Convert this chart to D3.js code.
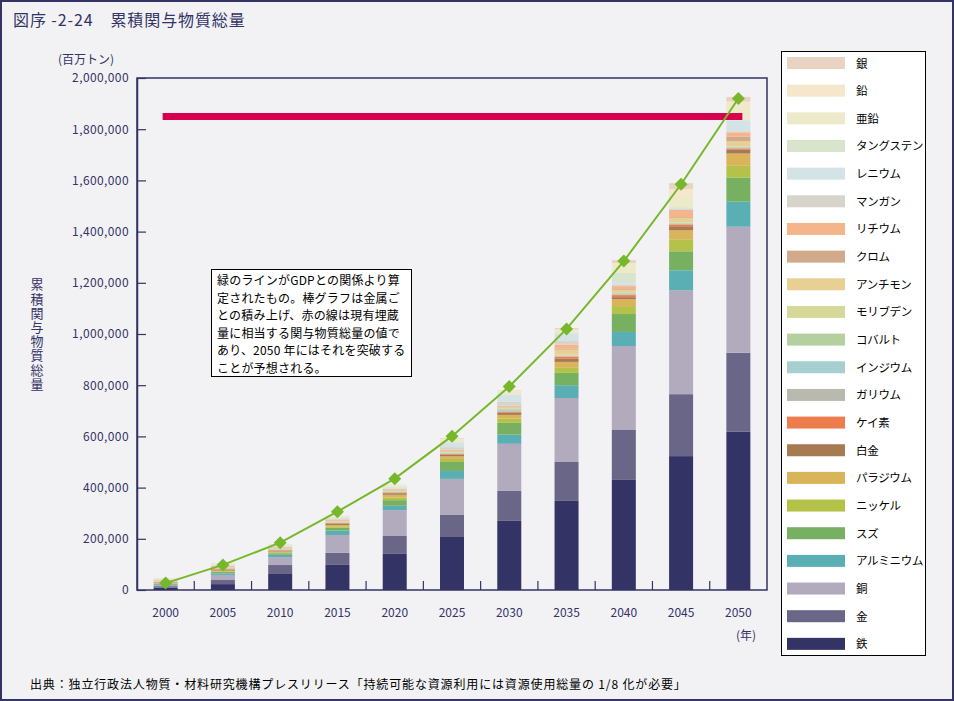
<!DOCTYPE html>
<html><head><meta charset="utf-8">
<script src="https://cdn.jsdelivr.net/npm/d3@7"></script>
<style>
html,body{margin:0;padding:0;background:#f2f2f5;}
svg{display:block;font-family:"Noto Sans CJK JP","Noto Sans",sans-serif;}
</style></head><body>
<svg id="chart" width="954" height="701"></svg>
<script>
// ---- data (百万トン) ----
const years = ["2000","2005","2010","2015","2020","2025","2030","2035","2040","2045","2050"];
const iron       = [9000, 23000, 62500, 98000, 141000, 207000, 270000, 348000, 430000, 523000, 618000];
const gold       = [6000, 16000, 35000, 47000, 70000, 86000, 117000, 152000, 195000, 242000, 309000];
const copper     = [5000, 20000, 31000, 70000, 101000, 141000, 184000, 250000, 328000, 406000, 492000];
const aluminium  = [3000, 6000, 9000, 17000, 17000, 31000, 36000, 50000, 55000, 78000, 98000];
const tin        = [2000, 5000, 6000, 11000, 22000, 35000, 46000, 48000, 70000, 74000, 94000];
const nickel     = [1500, 3000, 4000, 6000, 10000, 12000, 17000, 20000, 31000, 47000, 46000];
const palladium  = [1000, 3000, 3000, 5000, 11000, 10000, 14000, 23000, 27000, 35000, 48000];
const platinum   = [1000, 2500, 3000, 4000, 6000, 6000, 9000, 12000, 8000, 16000, 16000];
const silicon    = [2000, 3000, 2000, 3000, 3000, 3000, 4000, 8000, 8000, 7000, 4000];
const gallium    = [1000, 1500, 1500, 1500, 1500, 2000, 3000, 2000, 3000, 2000, 2000];
const indium     = [1000, 1500, 1500, 1500, 1500, 2000, 4000, 2000, 3000, 2000, 2000];
const cobalt     = [1000, 1500, 1500, 1500, 1500, 2000, 4000, 2000, 3000, 2000, 2000];
const molybdenum = [1000, 1500, 1500, 1500, 1500, 2000, 3000, 2000, 3000, 2000, 2000];
const antimony   = [1500, 2000, 2000, 3000, 3000, 4000, 3000, 20000, 8000, 18000, 20000];
const chromium   = [1000, 1500, 1500, 2000, 1000, 2000, 3000, 3000, 3000, 3000, 18000];
const lithium    = [1500, 2500, 2500, 3000, 3000, 3000, 3000, 17000, 12000, 28000, 17000];
const manganese  = [1000, 2000, 2000, 2000, 2000, 10000, 15000, 16000, 6000, 3000, 4000];
const rhenium    = [2000, 2500, 2500, 4000, 5000, 18000, 27000, 27000, 10000, 4000, 42000];
const tungsten   = [1500, 2000, 2000, 3000, 2000, 2000, 2000, 3000, 36000, 3000, 4000];
const zinc       = [2000, 2500, 3000, 4000, 6000, 10000, 12000, 10000, 34000, 45000, 52000];
const lead       = [1000, 1000, 1000, 1000, 1000, 2000, 2000, 3000, 4000, 26000, 18000];
const silver     = [1000, 1000, 1000, 1000, 1000, 3000, 2000, 5000, 12000, 23000, 18000];
const gdpLine    = [27000, 98000, 185000, 306000, 435000, 601000, 795000, 1020000, 1285000, 1585000, 1920000];
const reserveLine = [1850000, 1850000];
const yTicks = [0, 200000, 400000, 600000, 800000, 1000000, 1200000, 1400000, 1600000, 1800000, 2000000];

// bottom -> top stacking order
const seriesNames = ["鉄","金","銅","アルミニウム","スズ","ニッケル","パラジウム","白金","ケイ素","ガリウム","インジウム","コバルト","モリブデン","アンチモン","クロム","リチウム","マンガン","レニウム","タングステン","亜鉛","鉛","銀"];
const seriesValues = [iron,gold,copper,aluminium,tin,nickel,palladium,platinum,silicon,gallium,indium,cobalt,molybdenum,antimony,chromium,lithium,manganese,rhenium,tungsten,zinc,lead,silver];
const seriesColors = ["#343366","#6a6688","#b2abbe","#5aafb4","#78b062","#b4c24a","#dab45a","#a87a52","#ee7d4e","#bab9b0","#a6d0d0","#b4cfa0","#d6d89a","#e8d094","#d0aa8a","#f5b58a","#d8d4cc","#d4e4e6","#d8e4cc","#eceac8","#f5e6cc","#e8d4c0"];

const navy = "#333366";
const svg = d3.select("#chart");
svg.append("rect").attr("x",1).attr("y",1).attr("width",952).attr("height",699)
   .attr("fill","#f2f2f5").attr("stroke",navy).attr("stroke-width",2);

// title
svg.append("text").attr("x",13).attr("y",26).attr("fill",navy)
   .attr("font-size",16).attr("letter-spacing",0.9).text("図序 -2-24　累積関与物質総量");

const L = 137, R = 767, T = 78, B = 590;
const x = d3.scaleBand().domain(years).range([L,R]).padding(0);
const y = d3.scaleLinear().domain([0,2000000]).range([B,T]);
const barW = 24;
const cx = d => x(d) + x.bandwidth()/2;

// table for stacking
const table = years.map((yr,i)=>{ const o={year:yr}; seriesNames.forEach((n,k)=>o[n]=seriesValues[k][i]); return o; });
const stacked = d3.stack().keys(seriesNames)(table);

const g = svg.append("g");
g.selectAll("g.layer").data(stacked).join("g").attr("class","layer")
  .attr("fill",(d,i)=>seriesColors[i])
  .selectAll("rect").data(d=>d).join("rect")
  .attr("x",d=>cx(d.data.year)-barW/2).attr("width",barW)
  .attr("y",d=>y(d[1])).attr("height",d=>y(d[0])-y(d[1]));

// frame
svg.append("rect").attr("x",L).attr("y",T).attr("width",R-L).attr("height",B-T)
   .attr("fill","none").attr("stroke",navy).attr("stroke-width",1.5);

// y axis
const yAxis = svg.append("g").attr("transform",`translate(${L},0)`)
  .call(d3.axisLeft(y).tickValues(yTicks).tickFormat(d3.format(",")).tickSizeInner(-9).tickSizeOuter(0).tickPadding(8));
yAxis.select(".domain").attr("stroke",navy).attr("stroke-width",1.5);
yAxis.selectAll(".tick line").attr("stroke",navy).attr("stroke-width",1.2);
yAxis.selectAll("text").attr("fill",navy).attr("font-size",12).attr("font-family","'Noto Sans CJK JP'").attr("letter-spacing",0.4);

// x axis: labels at centres, ticks at band boundaries (inward)
const xAxis = svg.append("g").attr("transform",`translate(0,${B})`);
xAxis.selectAll("line").data(years.slice(1)).join("line")
  .attr("x1",d=>x(d)).attr("x2",d=>x(d)).attr("y1",0).attr("y2",-9)
  .attr("stroke",navy).attr("stroke-width",1.2);
xAxis.selectAll("text").data(years).join("text")
  .attr("x",d=>cx(d)).attr("y",27).attr("text-anchor","middle")
  .attr("fill",navy).attr("font-size",12).text(d=>d);

svg.append("text").attr("x",746).attr("y",640).attr("text-anchor","middle")
   .attr("fill",navy).attr("font-size",12).text("(年)");
svg.append("text").attr("x",86).attr("y",64).attr("text-anchor","middle")
   .attr("fill",navy).attr("font-size",12).text("(百万トン)");

// y axis title (vertical)
svg.append("text").attr("x",37).attr("y",278)
  .style("writing-mode","vertical-rl").attr("letter-spacing",1.2)
  .attr("fill",navy).attr("font-size",13).text("累積関与物質総量");

// red reserve line
svg.append("line")
  .attr("x1",cx(years[0])-3).attr("x2",cx(years[years.length-1])+4)
  .attr("y1",y(reserveLine[0])).attr("y2",y(reserveLine[1]))
  .attr("stroke","#d6004e").attr("stroke-width",7);

// green GDP line
const line = d3.line().x((d,i)=>cx(years[i])).y(d=>y(d));
svg.append("path").datum(gdpLine).attr("d",line)
  .attr("fill","none").attr("stroke","#76b82a").attr("stroke-width",2);
svg.append("g").selectAll("path").data(gdpLine).join("path")
  .attr("transform",(d,i)=>`translate(${cx(years[i])},${y(d)})`)
  .attr("d","M0,-6.5L6.5,0L0,6.5L-6.5,0Z").attr("fill","#76b82a");

// annotation box
svg.append("rect").attr("x",211.5).attr("y",269.5).attr("width",200).attr("height",107)
   .attr("fill","#ffffff").attr("stroke","#000").attr("stroke-width",1);
const note = ["緑のラインがGDPとの関係より算","定されたもの。棒グラフは金属ご","との積み上げ、赤の線は現有埋蔵","量に相当する関与物質総量の値で","あり、2050 年にはそれを突破する","ことが予想される。"];
svg.append("g").selectAll("text").data(note).join("text")
  .attr("x",217).attr("y",(d,i)=>285+i*17.6).attr("fill","#000").attr("font-size",12)
  .attr("letter-spacing",0.2).text(d=>d);

// legend (top -> bottom: reverse of stack)
const lg = svg.append("g");
lg.append("rect").attr("x",781.5).attr("y",51.5).attr("width",144).attr("height",604)
  .attr("fill","#ffffff").attr("stroke","#000").attr("stroke-width",1);
const legendOrder = seriesNames.map((n,i)=>({name:n,color:seriesColors[i]})).reverse();
const items = lg.selectAll("g.item").data(legendOrder).join("g").attr("class","item")
  .attr("transform",(d,i)=>`translate(0,${63+i*27.66})`);
items.append("rect").attr("x",787).attr("y",-6).attr("width",58).attr("height",12).attr("fill",d=>d.color);
items.append("text").attr("x",856).attr("y",4.5).attr("font-size",11.5).attr("letter-spacing",-0.3)
  .attr("fill","#000").text(d=>d.name);

// footer
svg.append("text").attr("x",30).attr("y",689).attr("fill","#000").attr("font-size",12)
   .attr("letter-spacing",0.85)
   .text("出典：独立行政法人物質・材料研究機構プレスリリース「持続可能な資源利用には資源使用総量の 1/8 化が必要」");
</script>
</body></html>
